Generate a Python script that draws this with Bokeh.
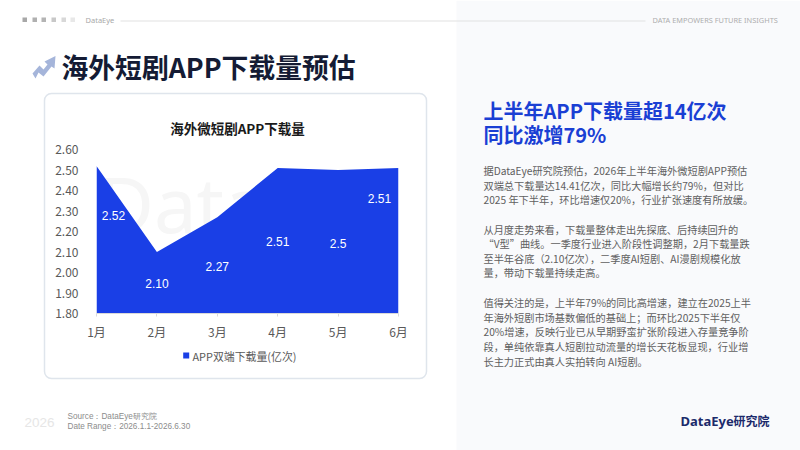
from bokeh.plotting import figure
from bokeh.layouts import column
from bokeh.models import (Range1d, FixedTicker, Label, BoxAnnotation, PolyAnnotation,
                          ColumnDataSource)
from bokeh.core.properties import value
from bokeh.embed import file_html
from bokeh.resources import INLINE

# ---- data ----
months = ["1月", "2月", "3月", "4月", "5月", "6月"]
downloads = [2.52, 2.10, 2.27, 2.51, 2.50, 2.51]
value_labels = ["2.52", "2.10", "2.27", "2.51", "2.5", "2.51"]
y_ticks = [1.8, 1.9, 2.0, 2.1, 2.2, 2.3, 2.4, 2.5, 2.6]
series_name = "APP双端下载量(亿次)"
chart_title = "海外微短剧APP下载量"
page_title = "海外短剧APP下载量预估"
heading_lines = ["上半年APP下载量超14亿次", "同比激增79%"]
body_lines = [
    "据DataEye研究院预估，2026年上半年海外微短剧APP预估",
    "双端总下载量达14.41亿次，同比大幅增长约79%，但对比",
    "2025  年下半年，环比增速仅20%，行业扩张速度有所放缓。",
    "从月度走势来看，下载量整体走出先探底、后持续回升的",
    " “V型”曲线。一季度行业进入阶段性调整期，2月下载量跌",
    "至半年谷底（2.10亿次），二季度AI短剧、AI漫剧规模化放",
    "量，带动下载量持续走高。",
    "值得关注的是，上半年79%的同比高增速，建立在2025上半",
    "年海外短剧市场基数偏低的基础上；而环比2025下半年仅",
    "20%增速，反映行业已从早期野蛮扩张阶段进入存量竞争阶",
    "段，单纯依靠真人短剧拉动流量的增长天花板显现，行业增",
    "长主力正式由真人实拍转向 AI短剧。",
]

# ---- layout / style ----
CJK = "Noto Sans CJK SC"
W, H = 800, 450
BLUE = "#1a3fe6"
body_y = [170, 184.5, 199, 228.5, 243, 257.7, 272.3, 301.7, 316.5, 331, 346, 360.7]
label_dx = [17, 0, 0, 0, 0, -19]
label_dy = [50, 31.5, 49, 74, 73, 31]
square_x = [22, 32, 41, 51, 61, 70]
square_c = ["#a8a8a8", "#b0b0b0", "#b4b4b4", "#c8c8c8", "#d8d8d8", "#e8e8e8"]

# decoration layer: its frame is the whole page
d = figure(width=W, height=H, output_backend="svg", toolbar_location=None, frame_align=False,
           x_range=Range1d(0, W), y_range=Range1d(H, 0), x_axis_location=None, y_axis_location=None,
           min_border=0, border_fill_color="#ffffff", background_fill_color="#ffffff",
           outline_line_color=None)
d.grid.visible = False


def box(l, t, r, b, **kw):
    d.add_layout(BoxAnnotation(left=l, right=r, top=t, bottom=b, left_units="canvas",
                               right_units="canvas", top_units="canvas", bottom_units="canvas",
                               fill_alpha=1, line_alpha=1, **kw))


def text(x, y, s, size, color, font=CJK, style="normal", align="left"):
    d.add_layout(Label(x=x, y=y, x_units="canvas", y_units="canvas", text=s,
                       text_font=font, text_font_size=f"{size}px", text_color=color,
                       text_font_style=style, text_align=align, text_baseline="middle"))


box(456, 0, 800, 450, fill_color="#f9fafc", line_color=None)
box(44, 93, 426, 378, fill_color="#ffffff", line_color="#dfe5ec", line_width=1.5, border_radius=7)
text(98, 203, "DataEye", 76, "#f6f6f6", font="Noto Sans")

for x, c in zip(square_x, square_c):
    box(x, 17, x + 4.5, 21.5, fill_color=c, line_color=None)
text(85, 19.5, "DataEye", 7.5, "#a8a8a8", font="Noto Sans")
box(120, 20, 645, 21, fill_color="#e2e2e2", line_color=None)
text(652, 19.5, "DATA  EMPOWERS  FUTURE  INSIGHTS", 7.4, "#adadad", font="Noto Sans")

ax = [32, 39, 43, 47, 44, 55, 54, 51, 43, 38, 35]
ay = [73, 65, 69, 64, 61, 55.5, 68, 66, 76, 72, 78]
d.add_layout(PolyAnnotation(xs=ax, ys=ay, xs_units="canvas", ys_units="canvas",
                            fill_color="#a5b5da", fill_alpha=1, line_color=None))
text(61, 66, page_title, 26.8, "#141b34", style="bold")

# chart title and legend key sit in the card, outside the chart's frame
text(237, 127, chart_title, 13.5, "#1a1a1a", style="bold", align="center")
box(182.7, 352, 188.7, 358, fill_color=BLUE, line_color=None)
text(192, 355, series_name, 10.9, "#595959")

for y, s in zip([110, 134], heading_lines):
    text(483, y, s, 20, "#1a3fd4", style="bold")
for y, s in zip(body_y, body_lines):
    text(483, y, s, 10.2, "#606060")

text(24, 422, "2026", 13.5, "#e6e6e6", font="Liberation Sans")
text(67, 415.5, "Source：DataEye研究院", 8.2, "#8c8c8c", font="Liberation Sans")
text(67, 426, "Date Range：2026.1.1-2026.6.30", 8.2, "#8c8c8c", font="Liberation Sans")
text(680, 420, "DataEye", 13, "#1c2a6b", font="Noto Sans", style="bold")
text(733, 420, "研究院", 12, "#1c2a6b", style="bold")

# chart layer, laid over the decoration layer
p = figure(width=W, height=H, output_backend="svg", toolbar_location=None, frame_align=False,
           x_range=Range1d(0, len(months) - 1), y_range=Range1d(y_ticks[0], y_ticks[-1]),
           min_border_left=96, min_border_right=W - 96 - 302,
           min_border_top=149, min_border_bottom=H - 149 - 164,
           border_fill_color=None, background_fill_color=None, outline_line_color=None,
           styles={"position": "absolute", "left": "0px", "top": "0px"})
p.grid.visible = False

xs = list(range(len(months)))
src = ColumnDataSource(dict(x=xs, top=downloads, base=[y_ticks[0]] * len(months),
                            label=value_labels, dx=label_dx, dy=label_dy))
p.varea(x="x", y1="base", y2="top", source=src, fill_color=BLUE)
p.text(x="x", y="top", text="label", source=src, x_offset="dx", y_offset="dy",
       text_color="#ffffff", text_font=value("Liberation Sans"), text_font_size="12px",
       text_align="center", text_baseline="middle")

xa = p.xaxis[0]
xa.ticker = FixedTicker(ticks=xs)
xa.major_label_overrides = {i: m for i, m in enumerate(months)}
xa.axis_line_color = "#d9d9d9"
xa.major_tick_line_color = "#d9d9d9"
xa.major_tick_out = 3
xa.major_tick_in = 0
xa.minor_tick_line_color = None
xa.major_label_standoff = 6
xa.major_label_text_font = CJK
xa.major_label_text_font_size = "12px"
xa.major_label_text_color = "#595959"

ya = p.yaxis[0]
ya.ticker = FixedTicker(ticks=y_ticks)
ya.major_label_overrides = {t: f"{t:.2f}" for t in y_ticks}
ya.axis_line_color = None
ya.major_tick_line_color = None
ya.minor_tick_line_color = None
ya.major_label_standoff = 12
ya.major_label_text_font = CJK
ya.major_label_text_font_size = "12px"
ya.major_label_text_color = "#595959"

page = column(d, p, spacing=0, margin=0)
open("out.html", "w").write(file_html(page, INLINE))
